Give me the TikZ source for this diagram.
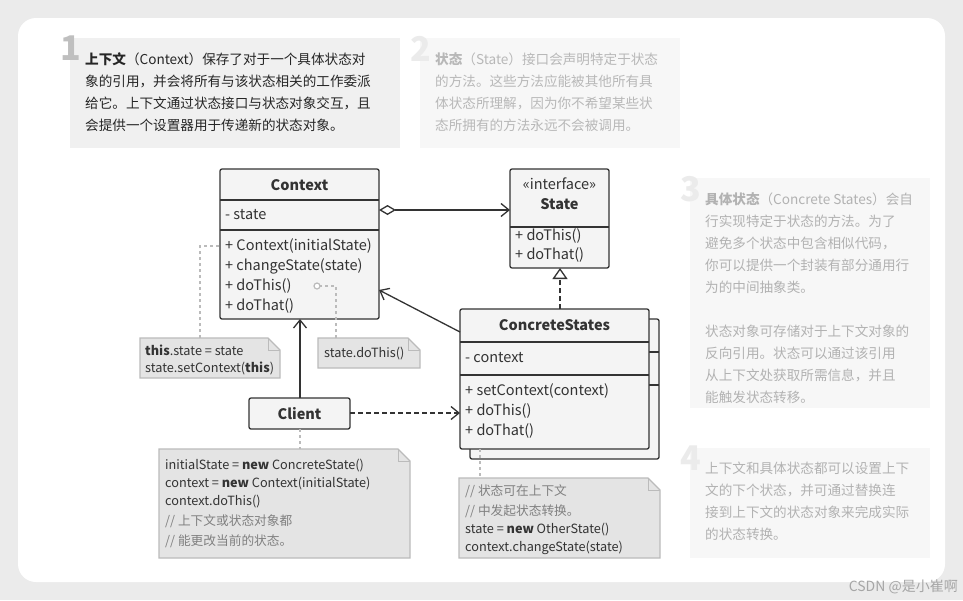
\documentclass[tikz,border=0pt]{standalone}
\usepackage{fontspec}
\setmainfont{Noto Sans CJK SC}
\usetikzlibrary{arrows.meta,shapes.geometric}
\definecolor{ln}{HTML}{333333}
\definecolor{bx}{HTML}{F4F4F4}
\definecolor{nt}{HTML}{E4E4E4}
\definecolor{ntb}{HTML}{BBBBBB}
\tikzset{
 cls/.style={draw=ln,line width=1.3pt,fill=bx,rounded corners=2pt},
 sep/.style={draw=ln,line width=1.3pt},
 umlt/.style={font=\fontsize{14.5}{20}\selectfont,text=ln,anchor=west,inner sep=0pt,align=left},
 umlh/.style={font=\fontsize{14.5}{20}\selectfont\bfseries,text=ln,inner sep=0pt,align=center},
 ntt/.style={font=\fontsize{12.7}{18}\selectfont,text=ln,anchor=west,inner sep=0pt},
 conn/.style={draw=ln,line width=1.3pt},
 dotl/.style={draw=ntb,line width=1.3pt,dash pattern=on 3pt off 3pt},
 desc/.style={font=\fontsize{13.6}{22}\selectfont,anchor=north west,inner sep=0pt,align=left},
 bign/.style={font=\fontsize{34}{34}\selectfont\bfseries,anchor=north west,inner sep=0pt},
}
\newcommand{\notebox}[5]{% name,x1,y1,x2,y2
 \fill[nt] (#2,#3) -- (#4-12,#3) -- (#4,#3+12) -- (#4,#5) -- (#2,#5) -- cycle;
 \draw[ntb,line width=1.3pt] (#2,#3) -- (#4-12,#3) -- (#4,#3+12) -- (#4,#5) -- (#2,#5) -- cycle;
 \draw[ntb,line width=1pt] (#4-12,#3) -- (#4-12,#3+12) -- (#4,#3+12);
 \coordinate (#1) at ({(#2+#4)/2},#3);
}
\begin{document}
\begin{tikzpicture}[x=1pt,y=-1pt]
\useasboundingbox (0,0) rectangle (963,600);
\fill[black!8] (0,0) rectangle (963,600);
\fill[white,rounded corners=18pt] (18,18) rectangle (945,582);
% description boxes
\fill[black!6] (70,38) rectangle (400,148);
\fill[black!3] (420,38) rectangle (680,148);
\fill[black!3] (690,178) rectangle (930,408);
\fill[black!3] (690,448) rectangle (930,558);
\node[bign,text=black!25] at (60,36) {1};
\node[bign,text=black!8] at (410,36) {2};
\node[bign,text=black!8] at (680,176) {3};
\node[bign,text=black!8] at (680,446) {4};
\node[desc,text=black!85] (d1) at (85,52) {\textbf{上下文}（Context）保存了对于一个具体状态对\\象的引用，并会将所有与该状态相关的工作委派\\给它。上下文通过状态接口与状态对象交互，且\\会提供一个设置器用于传递新的状态对象。};
\node[desc,text=black!28] (d2) at (435,52) {\textbf{状态}（State）接口会声明特定于状态\\的方法。这些方法应能被其他所有具\\体状态所理解，因为你不希望某些状\\态所拥有的方法永远不会被调用。};
\node[desc,text=black!30] (d3) at (705,192) {\textbf{具体状态}（Concrete States）会自\\行实现特定于状态的方法。为了\\避免多个状态中包含相似代码，\\你可以提供一个封装有部分通用行\\为的中间抽象类。\\[22pt]状态对象可存储对于上下文对象的\\反向引用。状态可以通过该引用\\从上下文处获取所需信息，并且\\能触发状态转移。};
\node[desc,text=black!30] (d4) at (705,462) {上下文和具体状态都可以设置上下\\文的下个状态，并可通过替换连\\接到上下文的状态对象来完成实际\\的状态转换。};
% Context
\draw[cls] (220,169) rectangle (379,319);
\draw[sep] (220,200) -- (379,200); \draw[sep] (220,230) -- (379,230);
\node[umlh] (ctx) at (299.5,185) {Context};
\node[umlt] at (225,215) {- state};
\node[umlt] at (225,246) {+ Context(initialState)};
\node[umlt] at (225,266) {+ changeState(state)};
\node[umlt] at (225,286) {+ doThis()};
\node[umlt] at (225,306) {+ doThat()};
\coordinate (ctxR) at (379,210); \coordinate (ctxR2) at (379,290); \coordinate (ctxB) at (300,319);
% State
\draw[cls] (510,169) rectangle (609,268);
\draw[sep] (510,227) -- (609,227);
\node[umlt,anchor=center] at (559.5,184) {«interface»};
\node[umlh] (st) at (559.5,204) {State};
\node[umlt] at (515,236) {+ doThis()};
\node[umlt] at (515,255) {+ doThat()};
\coordinate (stL) at (510,210); \coordinate (stB) at (560,268);
% ConcreteStates
\draw[cls] (470,319) rectangle (659,459);
\draw[sep] (649,352) -- (659,352); \draw[sep] (649,385) -- (659,385);
\draw[cls] (460,309) rectangle (649,449);
\draw[sep] (460,342) -- (649,342); \draw[sep] (460,375) -- (649,375);
\node[umlh] (cs) at (554.5,325) {ConcreteStates};
\node[umlt] at (465,358) {- context};
\node[umlt] at (465,391) {+ setContext(context)};
\node[umlt] at (465,411) {+ doThis()};
\node[umlt] at (465,431) {+ doThat()};
\coordinate (csT) at (560,309); \coordinate (csL) at (460,332); \coordinate (csL2) at (460,413); \coordinate (csB) at (480,449);
% Client
\draw[cls] (249,398) rectangle (350,429);
\node[umlh] (cl) at (299.5,414) {Client};
\coordinate (clT) at (300,398); \coordinate (clR) at (350,413); \coordinate (clB) at (300,429);
% connectors
\draw[conn,{Diamond[open,length=17pt,width=10pt,fill=white]}-{Straight Barb[length=8pt,width=13pt]}] (ctxR) -- (stL);
\draw[conn,-{Straight Barb[length=8pt,width=13pt]}] (csL) -- (ctxR2);
\draw[conn,-{Straight Barb[length=8pt,width=13pt]}] (clT) -- (ctxB);
\draw[conn,dash pattern=on 5pt off 3pt,-{Straight Barb[length=8pt,width=13pt]}] (clR) -- (csL2);
\draw[conn,dash pattern=on 5pt off 3pt,-{Triangle[open,length=11pt,width=15pt,fill=white]}] (csT) -- (stB);
% notes
\notebox{n1}{140}{338}{280}{378}
\node[ntt] at (145,350) {\textbf{this}.state = state};
\node[ntt] at (145,368) {state.setContext(\textbf{this})};
\notebox{n2}{318}{338}{420}{368}
\node[ntt] at (324,354) {state.doThis()};
\notebox{n3}{159}{449}{410}{558}
\node[ntt] at (165,466) {initialState = \textbf{new} ConcreteState()};
\node[ntt] at (165,484) {context = \textbf{new} Context(initialState)};
\node[ntt] at (165,502) {context.doThis()};
\node[ntt,text=black!50] at (165,521) {// 上下文或状态对象都};
\node[ntt,text=black!50] at (165,541) {// 能更改当前的状态。};
\notebox{n4}{459}{478}{660}{558}
\node[ntt,text=black!50] at (465,491) {// 状态可在上下文};
\node[ntt,text=black!50] at (465,511) {// 中发起状态转换。};
\node[ntt] at (465,530) {state = \textbf{new} OtherState()};
\node[ntt] at (465,548) {context.changeState(state)};
% dotted note links
\coordinate (k1) at (200,338); \coordinate (k1a) at (200,246); \coordinate (k1b) at (220,246);
\draw[dotl] (k1) -- (k1a) -- (k1b);
\coordinate (k2) at (336,338); \coordinate (k2a) at (336,286); \coordinate (k2b) at (320,286);
\draw[dotl] (k2) -- (k2a) -- (k2b);
\draw[ntb,line width=1.2pt,fill=white] (317,286) circle (3pt);
\draw[dotl] (clB) -- (300,449);
\draw[dotl] (csB) -- (480,478);
\node[font=\fontsize{14}{16}\selectfont,text=black!35,anchor=south east,inner sep=0pt] (wm) at (958,594) {CSDN @是小崔啊};
\end{tikzpicture}
\end{document}
